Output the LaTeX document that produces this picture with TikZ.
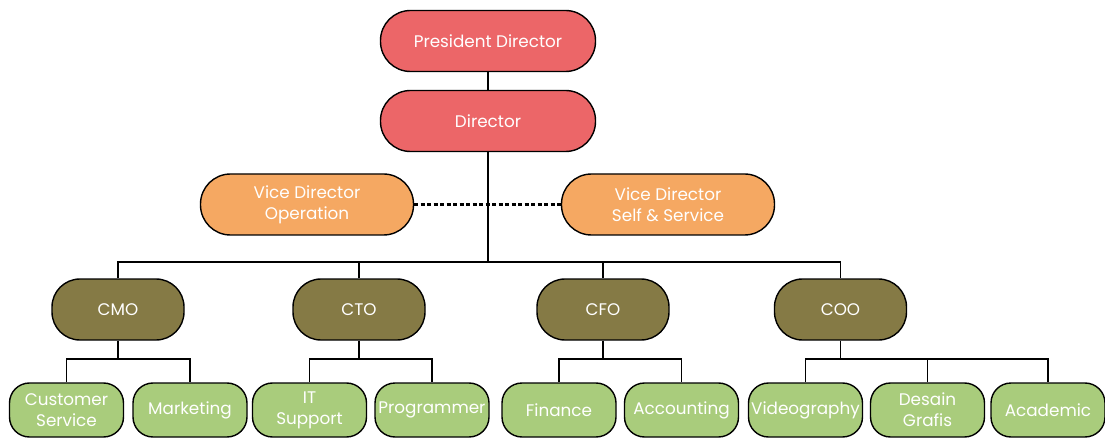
\documentclass[tikz,border=0pt]{standalone}
\usepackage{fontspec}
\setmainfont{Poppins}
\usetikzlibrary{positioning}
\definecolor{PresRed}{RGB}{236, 102, 104}
\definecolor{ViceOrange}{RGB}{245, 168, 98}
\definecolor{ChiefOlive}{RGB}{133, 122, 69}
\definecolor{StaffGreen}{RGB}{169, 204, 124}

\begin{document}
\begin{tikzpicture}[x=1pt, y=-1pt,
    box/.style={draw=black, line width=1.4pt, text=white, align=center,
                inner sep=0pt, font=\fontsize{16.8}{21}\selectfont},
    head/.style={box, fill=PresRed, minimum width=215pt, minimum height=61pt, rounded corners=30pt},
    vice/.style={box, fill=ViceOrange, minimum width=213pt, minimum height=61pt, rounded corners=30pt},
    chief/.style={box, fill=ChiefOlive, minimum width=132pt, minimum height=61pt, rounded corners=28pt},
    staff/.style={box, fill=StaffGreen, minimum width=114pt, minimum height=54pt, rounded corners=20pt},
    link/.style={line width=1.4pt}]
    \useasboundingbox (0,0) rectangle (1105,438);

    % Direccion
    \node[head] (pres) at (488,41) {President Director};
    \node[head] (dir) at (488,121) {Director};
    \node[vice] (vdo) at (307,204.5) {Vice Director\\Operation};
    \node[vice] (vds) at (668,204.5) {Vice Director\\Self \& Service};

    % Jefes
    \node[chief] (cmo) at (118,309.5) {CMO};
    \node[chief] (cto) at (359,309.5) {CTO};
    \node[chief] (cfo) at (603,309.5) {CFO};
    \node[chief] (coo) at (840.5,309.5) {COO};

    % Equipos
    \node[staff] (cs) at (66.5,410) {Customer\\Service};
    \node[staff] (mk) at (190,410) {Marketing};
    \node[staff] (its) at (309.5,410) {IT\\Support};
    \node[staff] (prog) at (432,410) {Programmer};
    \node[staff] (fin) at (559,410) {Finance};
    \node[staff] (acc) at (681.5,410) {Accounting};
    \node[staff] (vid) at (805.5,410) {Videography};
    \node[staff] (dg) at (927.5,410) {Desain\\Grafis};
    \node[staff] (aca) at (1048,410) {Academic};

    \coordinate (bus) at (488,262);
    \coordinate (cmo-b) at (118,359);
    \coordinate (cto-b) at (359,359);
    \coordinate (cfo-b) at (603,359);
    \coordinate (coo-b) at (840.5,359);

    % Lineas
    \draw[link] (pres) -- (dir);
    \draw[link] (dir) -- (bus);
    \draw[link, dash pattern=on 4pt off 2.5pt, line width=2.4pt] (vdo) -- (vds);
    \draw[link] (cmo) |- (bus) -| (coo);
    \draw[link] (cto) |- (bus) -| (cfo);

    \draw[link] (cmo) -- (cmo-b);
    \draw[link] (cs) |- (cmo-b) -| (mk);
    \draw[link] (cto) -- (cto-b);
    \draw[link] (its) |- (cto-b) -| (prog);
    \draw[link] (cfo) -- (cfo-b);
    \draw[link] (fin) |- (cfo-b) -| (acc);
    \draw[link] (coo) -- (coo-b);
    \draw[link] (vid) |- (coo-b) -| (aca);
    \draw[link] (dg) -- (dg |- coo-b);
\end{tikzpicture}
\end{document}
